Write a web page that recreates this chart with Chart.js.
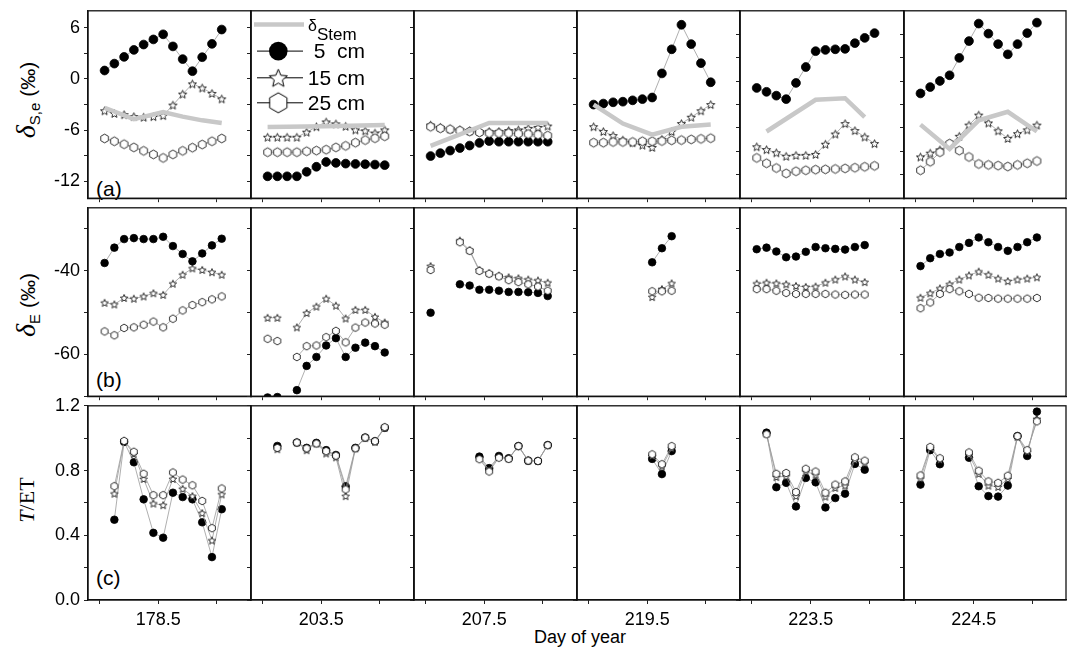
<!DOCTYPE html>
<html>
<head>
<meta charset="utf-8">
<script src="https://cdn.jsdelivr.net/npm/chart.js@4.4.1/dist/chart.umd.min.js"></script>
<style>
body { margin: 0; background: #fff; }
#fig { position: relative; width: 1071px; height: 658px; overflow: hidden; font-family: "Liberation Sans", Arial, sans-serif; color: #000; }
#fig canvas { position: absolute; }
.yt { position: absolute; transform: translate(-50%, -50%) rotate(-90deg); font-size: 21px; line-height: 1; white-space: nowrap; color: #000; }
.yt .dl { font-family: "Liberation Serif", serif; font-size: 28px; }
.yt sub { font-size: 15px; vertical-align: -0.3em; }
.serif { font-family: "Liberation Serif", serif; font-size: 22px; }
.pl { position: absolute; font-size: 21px; line-height: 1; }
.xt { position: absolute; transform: translate(-50%, -50%); font-size: 18px; white-space: nowrap; }
</style>
</head>
<body>
<div id="fig">
  <div class="yt" style="left:27px;top:100px"><i class="dl">δ</i><sub>S,e</sub> (‰)</div>
  <div class="yt" style="left:27px;top:305px"><i class="dl">δ</i><sub>E</sub> (‰)</div>
  <div class="yt serif" style="left:27px;top:500px"><i>T</i>/ET</div>
  <div class="pl" style="left:96px;top:178px">(a)</div>
  <div class="pl" style="left:96px;top:369px">(b)</div>
  <div class="pl" style="left:96px;top:567px">(c)</div>
  <div class="xt" style="left:580px;top:637px">Day of year</div>
</div>
<script>
const _ = null;
const days = ['178.5', '203.5', '207.5', '219.5', '223.5', '224.5'];
const hours = [6.5, 7.5, 8.5, 9.5, 10.5, 11.5, 12.5, 13.5, 14.5, 15.5, 16.5, 17.5, 18.5];
const depths = ['5  cm', '15 cm', '25 cm'];

// (a) delta S,e, one list per day
const seStem = [
  [-3.38, _, _, -4.72, _, _, -3.9, _, -4.42, _, -4.86, _, -5.17],
  [-5.65, _, _, _, _, _, -5.55, _, _, _, _, _, -5.4],
  [-7.85, _, _, _, _, _, -5.17, _, _, _, _, _, -5.17],
  [-3.01, _, _, -5.24, _, _, -6.54, _, _, -5.61, _, _, -5.36],
  [_, -6.17, _, _, _, _, -2.45, _, _, -2.26, _, -4.49, _],
  [-5.36, _, _, -8.22, _, _, -4.86, _, _, -3.86, _, _, -6.17]
];
const se5 = [
  [0.99, 1.8, 2.59, 3.41, 4.04, 4.64, 5.24, 3.82, 2.33, 0.91, 2.55, 4.12, 5.8],
  [-11.43, -11.43, -11.43, -11.43, -10.9, -10.31, -9.75, -9.86, -9.94, -9.98, -10.01, -10.05, -10.12],
  [-9.05, -8.71, -8.41, -8.11, -7.82, -7.51, -7.29, -7.37, -7.37, -7.37, -7.37, -7.37, -7.37],
  [-3.01, -2.89, -2.74, -2.67, -2.51, -2.37, -2.18, 0.65, 3.48, 6.36, 4.09, 1.85, -0.39],
  [-1.06, -1.51, -1.96, -2.37, -0.47, 1.4, 3.26, 3.41, 3.48, 3.53, 4.2, 4.82, 5.38],
  [-1.7, -0.95, -0.24, 0.43, 2.47, 4.45, 6.5, 5.32, 4.09, 2.89, 4.09, 5.38, 6.61]
];
const se15 = [
  [-3.74, -4.05, -4.19, -4.42, -4.49, -4.42, -4.3, -3.07, -1.78, -0.58, -1.06, -1.7, -2.34],
  [-6.84, -6.84, -6.84, -6.84, -6.25, -5.61, -5.05, -5.28, -5.56, -5.98, -6.09, -6.36, -5.98],
  [-5.42, -5.69, -5.87, -5.98, -6.09, -6.17, -6.17, -6.17, -6.06, -5.98, -5.8, -5.69, -5.53],
  [-5.61, -6.17, -6.65, -7.18, -7.48, -7.77, -8.04, -7.1, -6.17, -5.24, -4.49, -3.74, -3.01],
  [-7.96, -8.3, -8.67, -9.08, -8.97, -8.97, -8.86, -7.66, -6.47, -5.24, -6.06, -6.81, -7.59],
  [-9.16, -8.71, -8.33, -7.66, -6.73, -5.42, -4.24, -5.17, -6.09, -6.99, -6.43, -5.98, -5.42]
];
const se25 = [
  [-6.99, -7.32, -7.66, -8.04, -8.44, -8.86, -9.27, -8.86, -8.44, -8.07, -7.7, -7.32, -6.99],
  [-8.6, -8.6, -8.6, -8.6, -8.49, -8.41, -8.3, -8.04, -7.85, -7.48, -7.18, -6.96, -6.73],
  [-5.61, -5.8, -5.91, -6.06, -6.17, -6.28, -6.36, -6.36, -6.36, -6.43, -6.47, -6.54, -6.65],
  [-7.48, -7.48, -7.4, -7.4, -7.4, -7.32, -7.32, -7.29, -7.21, -7.18, -7.1, -7.03, -6.96],
  [-9.27, -9.9, -10.46, -11.09, -10.84, -10.72, -10.65, -10.61, -10.57, -10.5, -10.42, -10.31, -10.2],
  [-10.72, -9.72, -8.6, -7.59, -8.41, -9.16, -9.98, -10.09, -10.17, -10.28, -10.09, -9.9, -9.64]
];

// (b) delta E
const dE5 = [
  [-38.18, -34.52, -32.47, -32.24, -32.47, -32.47, -31.92, -34.14, -36.03, -37.79, -35.9, -33.98, -32.38],
  [-70.3, -70.2, _, -68.56, -62.76, -60.63, -57.89, -56.13, -60.63, -58.42, -57.21, -58.05, -59.56],
  [-50.06, _, _, -43.27, -43.57, -44.57, -44.57, -44.8, -45.1, -45.1, -45.17, -45.33, -46.08],
  [_, _, _, _, _, _, -38.02, -34.66, -31.78, _, _, _, _],
  [-34.89, -34.52, -35.44, -36.81, -36.65, -35.51, -34.37, -34.66, -34.82, -34.98, -34.37, -33.91, _],
  [-38.93, -37.04, -36.03, -35.67, -34.37, -33.38, -32.08, -33.22, -34.37, -35.28, -34.37, -33.22, -32.08]
];
const dE15 = [
  [-47.68, -48.07, -46.54, -46.7, -46.17, -45.4, -45.79, -43.12, -40.99, -39.46, -39.84, -40.37, -40.99],
  [-51.27, -51.27, _, -53.55, -50.13, -48.6, -46.7, -48.37, -51.43, -49.37, -49.37, -51.04, -52.41],
  [-38.93, _, _, -32.83, -35.12, -39.85, -40.6, -41.22, -41.6, -41.83, -42.13, -42.36, -42.88],
  [_, _, _, _, _, _, -46.31, -44.42, -43.04, _, _, _, _],
  [-43.11, -42.88, -43.04, -43.27, -43.66, -43.89, -43.8, -42.88, -42.13, -41.38, -42.13, -42.75, _],
  [-46.47, -45.4, -44.26, -43.27, -42.13, -41.15, -40.24, -40.99, -41.9, -42.52, -42.13, -41.9, -41.6]
];
const dE25 = [
  [-54.53, -55.45, -53.71, -53.55, -52.93, -52.18, -53.55, -51.5, -49.51, -48.23, -47.54, -46.86, -46.17],
  [-56.29, -56.82, _, -60.63, -58.05, -57.89, -55.9, -54.4, -57.14, -53.62, -52.41, -52.64, -52.93],
  [-39.85, _, _, -33.22, -35.28, -40.08, -40.76, -41.38, -42.29, -42.75, -43.27, -43.8, -44.8],
  [_, _, _, _, _, _, -44.94, -44.94, -44.8, _, _, _, _],
  [-44.42, -44.42, -44.8, -45.33, -45.56, -45.56, -45.56, -45.56, -45.72, -45.79, -45.72, -45.72, _],
  [-48.98, -47.61, -45.56, -44.42, -44.94, -45.56, -46.47, -46.54, -46.7, -46.7, -46.7, -46.7, -46.54]
];

// (c) T/ET
const tet5 = [
  [_, 0.496, 0.977, 0.851, 0.622, 0.415, 0.385, 0.663, 0.636, 0.622, 0.48, 0.265, 0.561],
  [_, 0.952, _, 0.973, 0.94, 0.971, 0.926, 0.896, 0.703, 0.94, 1.004, 0.981, 1.064],
  [_, _, _, _, _, 0.886, 0.815, 0.89, 0.876, 0.951, 0.861, 0.859, 0.957],
  [_, _, _, _, _, _, 0.872, 0.778, 0.92, _, _, _, _],
  [_, 1.034, 0.697, 0.724, 0.578, 0.754, 0.727, 0.572, 0.63, 0.657, 0.841, 0.805, _],
  [0.713, 0.926, 0.839, _, _, 0.879, 0.703, 0.642, 0.639, 0.707, 1.013, 0.89, 1.164]
];
const tet15 = [
  [_, 0.657, 0.983, 0.902, 0.748, 0.596, 0.586, 0.748, 0.687, 0.642, 0.537, 0.368, 0.653],
  [_, 0.932, _, 0.973, 0.926, 0.967, 0.906, 0.882, 0.642, 0.937, 1.001, 0.977, 1.064],
  [_, _, _, _, _, 0.878, 0.805, 0.885, 0.874, 0.951, 0.861, 0.859, 0.957],
  [_, _, _, _, _, _, 0.89, 0.825, 0.937, _, _, _, _],
  [_, 1.028, 0.76, 0.764, 0.642, 0.794, 0.774, 0.639, 0.693, 0.707, 0.865, 0.845, _],
  [0.75, 0.94, 0.865, _, _, 0.896, 0.78, 0.707, 0.699, 0.748, 1.007, 0.916, 1.119]
];
const tet25 = [
  [_, 0.703, 0.983, 0.916, 0.78, 0.648, 0.648, 0.788, 0.744, 0.709, 0.612, 0.444, 0.689],
  [_, 0.94, _, 0.973, 0.937, 0.967, 0.92, 0.892, 0.683, 0.937, 1.004, 0.981, 1.068],
  [_, _, _, _, _, 0.87, 0.794, 0.879, 0.872, 0.951, 0.861, 0.859, 0.957],
  [_, _, _, _, _, _, 0.9, 0.839, 0.951, _, _, _, _],
  [_, 1.024, 0.78, 0.785, 0.667, 0.811, 0.794, 0.663, 0.713, 0.733, 0.882, 0.861, _],
  [0.77, 0.946, 0.876, _, _, 0.912, 0.799, 0.733, 0.724, 0.768, 1.013, 0.926, 1.104]
];

// panel grid
const colLeft = [88, 251, 414, 577, 740, 904];
const colW = [163, 163, 163, 163, 164, 162];
const rowTop = [8, 205, 403];
const rowH = [197, 198, 197];
const FONT = 'Liberation Sans';

function makeStar(R, lw) {
  const s = Math.ceil(2 * R + 2 * lw + 2);
  const c = document.createElement('canvas');
  c.width = s; c.height = s;
  const g = c.getContext('2d');
  const cx = s / 2, cy = s / 2 + R * 0.1;
  g.beginPath();
  for (let i = 0; i < 10; i++) {
    const r = i % 2 ? R * 0.45 : R;
    const a = -Math.PI / 2 + i * Math.PI / 5;
    g.lineTo(cx + r * Math.cos(a), cy + r * Math.sin(a));
  }
  g.closePath();
  g.fillStyle = '#fff'; g.fill();
  g.lineWidth = lw; g.strokeStyle = '#000'; g.stroke();
  return c;
}
function makeHex(R, lw) {
  const s = Math.ceil(2 * R + 2 * lw + 2);
  const c = document.createElement('canvas');
  c.width = s; c.height = s;
  const g = c.getContext('2d');
  g.beginPath();
  for (let i = 0; i < 6; i++) {
    const a = -Math.PI / 2 + i * Math.PI / 3;
    g.lineTo(s / 2 + R * Math.cos(a), s / 2 + R * Math.sin(a));
  }
  g.closePath();
  g.fillStyle = '#fff'; g.fill();
  g.lineWidth = lw; g.strokeStyle = '#000'; g.stroke();
  return c;
}
const starA = makeStar(4.3, 0.8), starB = makeStar(3.9, 0.8);
const hexA = makeHex(4.4, 0.8), hexB = makeHex(3.9, 0.8);
const starL = makeStar(9.5, 1), hexL = makeHex(10, 1);

const rows = [
  { min: -14, max: 8, step: 3, s5: se5, s15: se15, s25: se25, stem: seStem,
    lab: v => Math.round(v) % 6 === 0 ? String(Math.round(v)) : '' },
  { min: -70, max: -25, step: 10, s5: dE5, s15: dE15, s25: dE25, stem: null,
    lab: v => Math.round(v) % 20 === 0 ? String(Math.round(v)) : '' },
  { min: 0, max: 1.2, step: 0.2, s5: tet5, s15: tet15, s25: tet25, stem: null,
    lab: v => Math.round(v * 10) % 4 === 0 ? v.toFixed(1) : '' }
];

const frame = {
  id: 'frame',
  afterDraw(chart) {
    const a = chart.chartArea, g = chart.ctx;
    g.save();
    g.strokeStyle = '#111'; g.lineWidth = 1.3;
    g.strokeRect(a.left, a.top, a.right - a.left, a.bottom - a.top);
    g.restore();
  }
};

const legendBox = {
  id: 'legendBox',
  afterDraw(chart) {
    const g = chart.ctx, x0 = chart.chartArea.left, y0 = chart.chartArea.top;
    g.save();
    g.strokeStyle = '#c8c8c8'; g.lineWidth = 4.5;
    g.beginPath(); g.moveTo(x0 + 3, y0 + 13.7); g.lineTo(x0 + 53, y0 + 13.7); g.stroke();
    g.fillStyle = '#000';
    g.font = '16px "' + FONT + '"';
    g.fillText('δ', x0 + 57, y0 + 20);
    g.font = '17px "' + FONT + '"';
    g.fillText('Stem', x0 + 66, y0 + 29);
    const syms = ['circle', starL, hexL];
    const dys = [40.3, 67, 92];
    g.font = '21px "' + FONT + '"';
    g.textAlign = 'right'; g.textBaseline = 'middle';
    for (let i = 0; i < 3; i++) {
      const dy = dys[i], sym = syms[i];
      g.strokeStyle = '#000'; g.lineWidth = 1;
      g.beginPath(); g.moveTo(x0 + 6, y0 + dy); g.lineTo(x0 + 52, y0 + dy); g.stroke();
      if (sym === 'circle') {
        g.beginPath(); g.arc(x0 + 27.3, y0 + dy, 9.3, 0, 2 * Math.PI);
        g.fillStyle = '#000'; g.fill();
      } else {
        g.drawImage(sym, x0 + 27.3 - sym.width / 2, y0 + dy - sym.height / 2);
      }
      g.fillStyle = '#000';
      g.fillText(depths[i], x0 + 114, y0 + dy + 1);
    }
    g.restore();
  }
};

function pts(vals) {
  return hours.map((h, i) => ({ x: h, y: vals[i] }));
}

function makePanel(r, c) {
  const row = rows[r];
  const mL = c === 0 ? 88 : 8, mR = 6, mT = 12, mB = r === 2 ? 48 : 8;
  const cv = document.createElement('canvas');
  cv.width = colW[c] + mL + mR;
  cv.height = rowH[r] + mT + mB;
  cv.style.left = (colLeft[c] - mL) + 'px';
  cv.style.top = (rowTop[r] - mT) + 'px';
  document.getElementById('fig').appendChild(cv);

  const big = r === 0;
  const line = { borderColor: '#9a9a9a', borderWidth: 0.8, tension: 0, spanGaps: false, pointBorderWidth: 0.8 };
  const datasets = [];
  if (row.stem) {
    datasets.push({ data: pts(row.stem[c]), borderColor: '#c8c8c8', borderWidth: 4.5,
      pointRadius: 0, spanGaps: true, tension: 0 });
  }
  datasets.push(Object.assign({ data: pts(row.s25[c]), pointStyle: big ? hexA : hexB }, line));
  datasets.push(Object.assign({ data: pts(row.s15[c]), pointStyle: big ? starA : starB }, line));
  datasets.push(Object.assign({ data: pts(row.s5[c]), pointStyle: 'circle', pointRadius: big ? 4.4 : 3.8,
    pointBackgroundColor: '#000', pointBorderColor: '#000' }, line));

  const yStep = (r === 0 && c >= 4) ? 2.75 : row.step;
  const tickFont = { family: FONT, size: 18 };

  new Chart(cv, {
    type: 'line',
    data: { datasets },
    plugins: (r === 0 && c === 1) ? [frame, legendBox] : [frame],
    options: {
      responsive: false,
      animation: false,
      events: [],
      layout: { padding: { top: mT, right: mR, left: 0, bottom: 0 } },
      plugins: { legend: { display: false }, tooltip: { enabled: false } },
      scales: {
        x: {
          type: 'linear', min: 4.8, max: 21.5,
          afterFit: s => { s.height = mB; },
          ticks: { stepSize: 6, includeBounds: false, autoSkip: false, maxRotation: 0, padding: 5,
            color: '#000', font: tickFont,
            callback: v => (r === 2 && v === 12) ? days[c] : '' },
          grid: { drawOnChartArea: false, drawTicks: true, tickLength: 4, color: '#222' },
          border: { display: true, color: '#111', width: 1.3 }
        },
        y: {
          type: 'linear', min: row.min, max: row.max,
          afterFit: s => { s.width = mL; },
          ticks: { stepSize: yStep, includeBounds: false, autoSkip: false, padding: 4,
            color: '#000', font: tickFont,
            callback: v => c === 0 ? row.lab(v) : '' },
          grid: { drawOnChartArea: false, drawTicks: true, tickLength: 4, color: '#222' },
          border: { display: true, color: '#111', width: 1.3 }
        }
      }
    }
  });
}

for (let r = 0; r < 3; r++) {
  for (let c = 0; c < 6; c++) makePanel(r, c);
}
</script>
</body>
</html>
